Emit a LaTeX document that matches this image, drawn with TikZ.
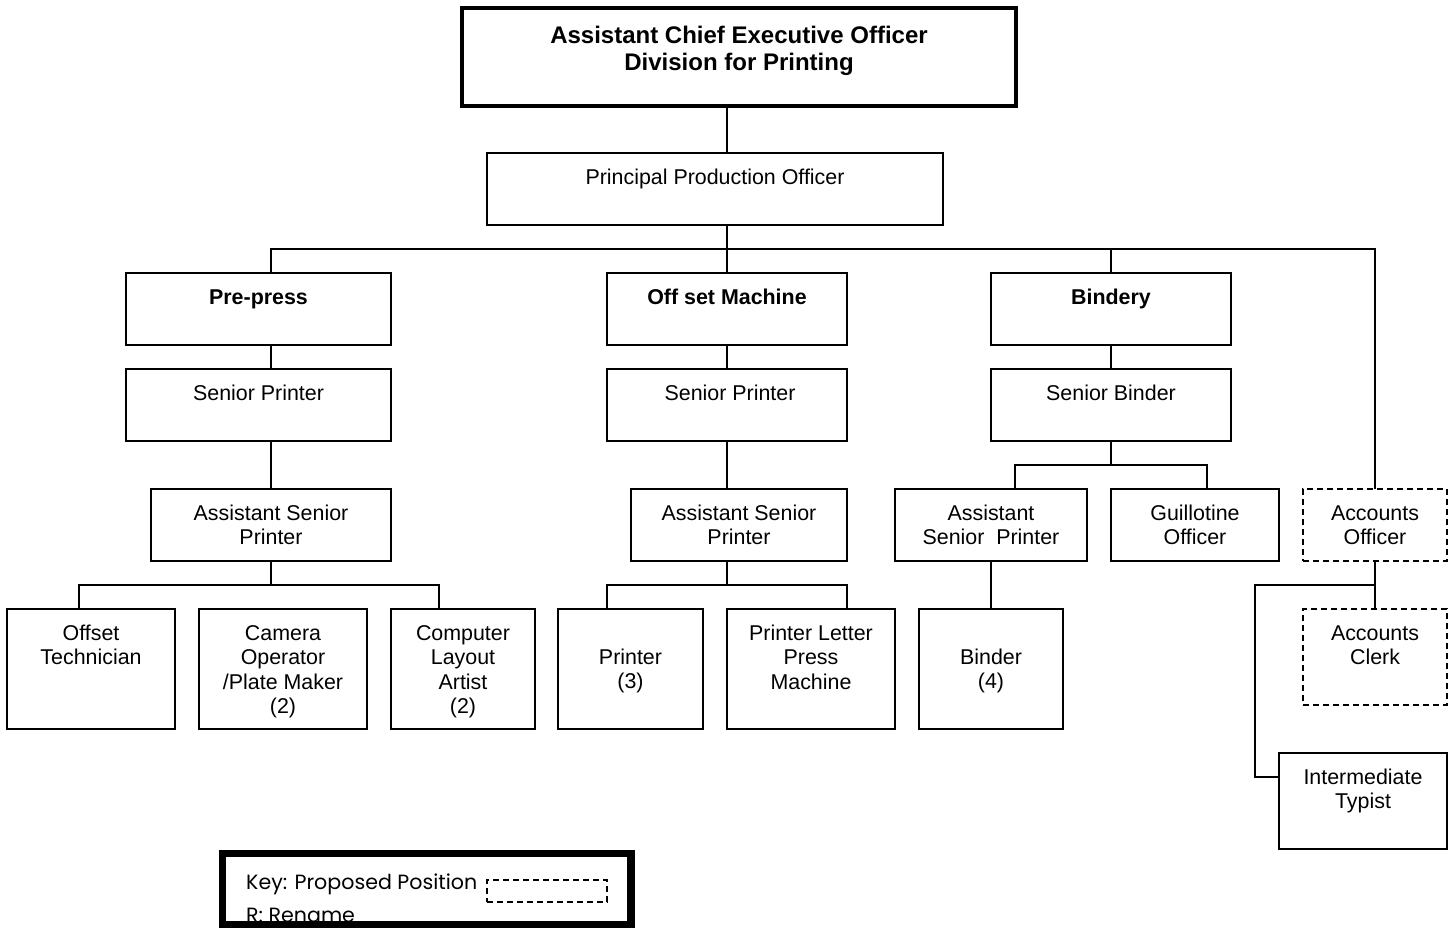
\documentclass[tikz,border=0pt]{standalone}
\usepackage{fontspec}
\setmainfont{Liberation Sans}
\newfontfamily\keyfont{Poppins}

% a box with its label; #1 extra style, #2 name, #3-#6 corners (x1,y1,x2,y2),
% #7 distance from the top edge to the first baseline, #8 label text
\newcommand{\orgunit}[8][]{%
  \node[unitbox,#1,minimum width={(#5-#3)*1pt},minimum height={(#6-#4)*1pt}]
    (#2) at ({(#3+#5)/2},{(#4+#6)/2}) {};
  \node[unittext] (#2-t) at ({(#3+#5)/2},{#4+#7-18}) {\rule{0pt}{18pt}#8};
}

\begin{document}
\begin{tikzpicture}[x=1pt,y=-1pt,
  unitbox/.style={draw, rectangle, line width=2.2pt, inner sep=0pt, outer sep=0pt},
  proposed/.style={dash pattern=on 6pt off 4pt, line width=2pt},
  unittext/.style={anchor=north, align=center, inner sep=0pt,
    font=\fontsize{21.4}{24.5}\selectfont},
  link/.style={line width=2pt},
  thinlink/.style={line width=1.3pt},
  keytext/.style={anchor=base west, inner sep=0pt,
    font=\keyfont\fontsize{20.6}{24}\selectfont}]
\useasboundingbox (0,0) rectangle (1455,928);

% column spines
\coordinate (c1) at (271,0);
\coordinate (c2) at (727,0);
\coordinate (c3) at (1111,0);
\coordinate (c4) at (1375,0);

% head of division
\node[unitbox, line width=4pt, minimum width=554pt, minimum height=98pt]
  (top) at (739,57) {};
\node[anchor=north, align=center, inner sep=0pt,
  font=\fontsize{24}{27}\selectfont\bfseries] (top-t) at (739,25)
  {\rule{0pt}{18pt}Assistant Chief Executive Officer\\Division for Printing};

\orgunit{ppo}{487}{153}{943}{225}{31}{Principal Production Officer}

% sections
\orgunit{pre}{126}{273}{391}{345}{31}{\bfseries Pre-press}
\orgunit{osm}{607}{273}{847}{345}{31}{\bfseries Off set Machine}
\orgunit{bind}{991}{273}{1231}{345}{31}{\bfseries Bindery}

% senior level
\orgunit{sp1}{126}{369}{391}{441}{31}{Senior Printer}
\orgunit{sp2}{607}{369}{847}{441}{31}{\hspace*{6pt}Senior Printer}
\orgunit{sb}{991}{369}{1231}{441}{31}{Senior Binder}

% assistant level
\orgunit{asp1}{151}{489}{391}{561}{31}{Assistant Senior\\Printer}
\orgunit{asp2}{631}{489}{847}{561}{31}{Assistant Senior\\Printer}
\orgunit{asp3}{895}{489}{1087}{561}{31}{Assistant\\Senior\ \ Printer}
\orgunit{guil}{1111}{489}{1279}{561}{31}{Guillotine\\Officer}
\orgunit[proposed]{acc}{1303}{489}{1447}{561}{31}{Accounts\\Officer}

% staff level
\orgunit{off}{7}{609}{175}{729}{31}{Offset\\Technician}
\orgunit{cam}{199}{609}{367}{729}{31}{Camera\\Operator\\/Plate Maker\\(2)}
\orgunit{cla}{391}{609}{535}{729}{31}{Computer\\Layout\\Artist\\(2)}
\orgunit{prn}{558}{609}{703}{729}{55}{Printer\\(3)}
\orgunit{plp}{727}{609}{895}{729}{31}{Printer Letter\\Press\\Machine}
\orgunit{bnd}{919}{609}{1063}{729}{55}{Binder\\(4)}
\orgunit[proposed]{clk}{1303}{609}{1447}{705}{31}{Accounts\\Clerk}
\orgunit{typ}{1279}{753}{1447}{849}{31}{Intermediate\\Typist}

% junction points
\coordinate (bus) at (727,249);
\coordinate (busL) at (703,249);
\coordinate (j1) at (79,585);
\coordinate (j1r) at (439,585);
\coordinate (j2) at (607,585);
\coordinate (j2r) at (847,585);
\coordinate (j3) at (1015,465);
\coordinate (j3r) at (1207,465);
\coordinate (j4) at (1255,585);
\coordinate (j4b) at (1255,777);

% top of the tree
\draw[link] (top.south -| c2) -- (ppo.north -| c2);
\draw[link] (ppo.south -| c2) -- (bus) -- (osm.north);
\draw[thinlink] (pre.north -| c1) -- (c1 |- busL) -- (busL);
\draw[link] (busL) -- (c4 |- bus) -- (acc.north);
\draw[link] (bind.north) -- (bind.north |- bus);

% pre-press column
\draw[link] (pre.south -| c1) -- (sp1.north -| c1);
\draw[link] (sp1.south -| c1) -- (asp1.north -| c1);
\draw[link] (asp1.south -| c1) -- (c1 |- j1);
\draw[link] (off.north -| j1) -- (j1) -- (j1r) -- (cla.north -| j1r);

% off set machine column
\draw[link] (osm.south) -- (sp2.north);
\draw[link] (sp2.south) -- (asp2.north -| c2);
\draw[link] (asp2.south -| c2) -- (c2 |- j2);
\draw[link] (prn.north -| j2) -- (j2) -- (j2r) -- (plp.north -| j2r);

% bindery column
\draw[link] (bind.south) -- (sb.north);
\draw[link] (sb.south) -- (c3 |- j3);
\draw[link] (asp3.north -| j3) -- (j3) -- (j3r) -- (guil.north -| j3r);
\draw[link] (asp3.south) -- (bnd.north);

% accounts
\draw[link] (acc.south) -- (clk.north);
\draw[link] (acc.south |- j4) -- (j4) -- (j4b) -- (typ.west |- j4b);

% key (second line runs into the frame's lower edge)
\node[draw, line width=7.5pt, rectangle, inner sep=0pt, outer sep=0pt,
  minimum width=408.5pt, minimum height=71.5pt] (key) at (426.75,889.25) {};
\begin{scope}
  \clip (226.5,857.5) rectangle (627,921);
  \node[keytext] (key-t) at (246,889) {Key: Proposed Position};
  \node[keytext] (key-r) at (246,922) {R: Rename};
\end{scope}
\node[draw, proposed, rectangle, inner sep=0pt, minimum width=120pt,
  minimum height=22pt] (key-s) at (547,891) {};
\end{tikzpicture}
\end{document}
